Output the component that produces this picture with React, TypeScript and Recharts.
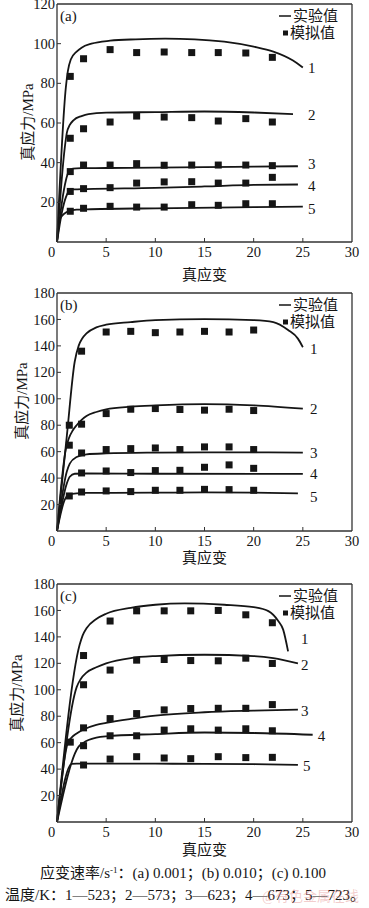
import React from "react";
import {
  ComposedChart,
  Line,
  Scatter,
  XAxis,
  YAxis,
  ReferenceLine,
  ReferenceDot,
} from "recharts";

const FONT = "'Liberation Serif', 'Noto Sans CJK SC', serif";
const INK = "#151515";
const AXIS = "#333";

const STRAIN_TICKS = [0, 5, 10, 15, 20, 25, 30];
const STRESS_TICKS_A = [0, 20, 40, 60, 80, 100, 120];
const STRESS_TICKS_BC = [0, 20, 40, 60, 80, 100, 120, 140, 160, 180];
const CURVE_NAMES = ["1", "2", "3", "4", "5"];

// (a) 0.001 s^-1 — experimental curves
const expStrainA1 = [0, 0.9, 1.1, 1.4, 2, 2.5, 3.5, 5.4, 8, 11, 14, 17, 20, 22, 24, 25];
const expStressA1 = [0, 78, 86, 92, 96, 98, 100, 101.5, 102.2, 102.5, 102.2, 101, 98.5, 96, 91.5, 88];
const expStrainA2 = [0, 0.8, 1, 1.3, 1.7, 2.5, 3.2, 5, 10, 15, 20, 24];
const expStressA2 = [0, 48, 55, 59, 61.5, 63.5, 64.5, 65.2, 65.5, 65.8, 65.3, 64.5];
const expStrainA3 = [0, 0.5, 0.9, 1.2, 1.6, 2.5, 5, 10, 15, 20, 24.5];
const expStressA3 = [0, 20, 31, 35.5, 37, 37.2, 37.3, 37.5, 37.8, 38, 38.2];
const expStrainA4 = [0, 0.5, 0.9, 1.2, 1.7, 3, 10, 15, 20, 24.5];
const expStressA4 = [0, 15, 22.5, 25.5, 26.5, 26.7, 27.3, 28, 28.8, 29];
const expStrainA5 = [0, 0.15, 0.4, 0.8, 1.2, 2, 3, 10, 20, 25];
const expStressA5 = [0, 10, 12.5, 14.5, 15.5, 16.3, 16.5, 17, 17.6, 17.8];

// (a) simulated points
const simStrainA = [1.35, 2.7, 5.4, 8.1, 10.9, 13.7, 16.4, 19.2, 21.9];
const simStressA1 = [83.5, 92.4, 97, 95.5, 95.8, 95.5, 95.5, 95.3, 93.1];
const simStressA2 = [52.3, 57.1, 60.5, 63.5, 63, 62.7, 61, 62.2, 60.5];
const simStressA3 = [35.5, 38.8, 38.8, 39.5, 38.7, 38.8, 38.8, 38.8, 38.5];
const simStressA4 = [25.5, 26.9, 27.4, 29.7, 30.3, 30.4, 29.7, 29.7, 32.6];
const simStressA5 = [15.5, 17, 18, 17.6, 17.6, 18.8, 18.5, 19.3, 19.3];

// (b) 0.010 s^-1 — experimental curves
const expStrainB1 = [0, 1, 1.8, 2.2, 2.6, 3, 4, 5, 7.5, 10, 15, 20, 22, 23.5, 24.5, 25];
const expStressB1 = [0, 72, 128, 140, 146, 149.5, 154, 156, 158, 159.5, 160.3, 159.5, 158, 152, 145.5, 139];
const expStrainB2 = [0, 0.9, 1.2, 1.6, 2, 2.5, 3, 4, 5, 7.5, 10, 15, 20, 25];
const expStressB2 = [0, 62, 70, 76, 80, 84, 87, 90, 92, 94, 95, 96, 95, 92.5];
const expStrainB3 = [0, 1, 1.3, 2, 3, 5, 10, 15, 20, 25];
const expStressB3 = [0, 45, 51, 56, 58, 58.7, 59.3, 59.5, 59.5, 59.3];
const expStrainB4 = [0, 1, 1.3, 1.8, 3, 10, 25];
const expStressB4 = [0, 36, 41, 43.3, 43.5, 43.3, 43.2];
const expStrainB5 = [0, 0.8, 1.2, 2, 3, 10, 15, 20, 24.5];
const expStressB5 = [0, 24, 27.5, 28.5, 28.8, 29, 29.2, 29, 28.5];

// (b) simulated points
const simStrainB = [1.25, 2.5, 5, 7.5, 10, 12.5, 15, 17.5, 20];
const simStrainB1 = [2.5, 5, 7.5, 10, 12.5, 15, 17.5, 20];
const simStressB1 = [136, 150.5, 151, 150, 150.5, 151, 150.5, 152];
const simStressB2 = [80, 80.8, 88.8, 92.1, 92.6, 91.9, 91.4, 92.1, 91.1];
const simStressB3 = [64.9, 59, 61.6, 62.3, 62.8, 61.6, 63.6, 63.6, 61.6];
const simStrainB4 = [2.5, 5, 7.5, 10, 12.5, 15, 17.5, 20];
const simStressB4 = [43.9, 45.4, 44.2, 45.7, 45.9, 48.2, 50, 47.4];
const simStressB5 = [26.5, 29.5, 30.3, 29.8, 30.8, 30.8, 31.5, 31.3, 30.8];

// (c) 0.100 s^-1 — experimental curves
const expStrainC1 = [0, 2.3, 2.6, 3, 4, 5, 7.5, 10, 13, 17, 20, 21.5, 22.5, 23, 23.5];
const expStressC1 = [0, 134, 141, 146.5, 153.5, 157.5, 162, 164.3, 165.3, 164.3, 162.5, 159.5, 152, 145.5, 129];
const expStrainC2 = [0, 2, 2.4, 3, 4, 5, 7.5, 10, 15, 20, 22, 24.5];
const expStressC2 = [0, 102, 108, 113, 117, 120, 124, 125.5, 126.5, 125.5, 124, 120];
const expStrainC3 = [0, 1.1, 1.5, 2, 2.7, 4, 5, 7.5, 10, 15, 20, 24.5];
const expStressC3 = [0, 60, 64, 67, 70, 73.5, 75, 78, 80.5, 83, 84.2, 85];
const expStrainC4 = [0, 2.2, 2.7, 3.2, 4, 5, 10, 15, 20, 26];
const expStressC4 = [0, 57, 60, 62, 63.8, 64.8, 66.5, 67.7, 67.3, 66];
const expStrainC5 = [0, 1.5, 2, 5, 10, 15, 20, 24.5];
const expStressC5 = [0, 44, 44.2, 44.2, 44.1, 44, 43.7, 43.2];

// (c) simulated points
const simStrainC = [2.7, 5.4, 8.1, 10.9, 13.6, 16.4, 19.2, 21.9];
const simStrainC3 = [1.35, 2.7, 5.4, 8.1, 10.9, 13.6, 16.4, 19.2, 21.9];
const simStressC1 = [125.9, 152, 159.7, 159.7, 159.7, 160, 156.7, 150.7];
const simStressC2 = [103.8, 114.9, 122.4, 122.9, 122.1, 121.9, 123.9, 119.9];
const simStressC3 = [60.4, 71.2, 78.2, 82, 84.8, 85.8, 86, 86, 88.8];
const simStressC4 = [57.7, 65.2, 65.2, 69.5, 70.5, 69.5, 70.5, 69];
const simStressC5 = [43.1, 47.6, 49.4, 48.4, 47.9, 49.4, 48.7, 48.9];

const pts = (xs: number[], ys: number[]) =>
  xs.map((x, i) => ({ strain: x, stress: ys[i] }));

// chart geometry
const W = 369;
const MT = 10;
const PH = 238;
const XH = 45;
const YW = 57;
const MR = 17;
const CH = MT + PH + XH;

const XTick = (props: any) => {
  const { x, y, payload } = props;
  const v = payload.value;
  return (
    <g>
      {v > 0 && v < 30 && (
        <line x1={x} y1={y} x2={x} y2={y - 4} stroke={AXIS} strokeWidth={1} />
      )}
      <text
        x={v === 0 ? x - 5.5 : x}
        y={y + 15}
        textAnchor="middle"
        fontSize={14.5}
        fontFamily={FONT}
        fill={INK}
      >
        {v}
      </text>
    </g>
  );
};

const YTick = (props: any) => {
  const { x, y, payload, max } = props;
  const v = payload.value;
  if (v === 0) return <g />;
  return (
    <g>
      {v < max && (
        <line x1={x} y1={y} x2={x + 4} y2={y} stroke={AXIS} strokeWidth={1} />
      )}
      <text
        x={x - 2}
        y={y}
        dy="0.35em"
        textAnchor="end"
        fontSize={14.5}
        fontFamily={FONT}
        fill={INK}
      >
        {v}
      </text>
    </g>
  );
};

const Square = (props: any) => {
  const { cx, cy } = props;
  if (cx == null || cy == null) return <g />;
  return <rect x={cx - 3.5} y={cy - 3.5} width={7} height={7} fill={INK} />;
};

type PanelProps = {
  plotTop: number;
  tag: string;
  yMax: number;
  yTicks: number[];
  curves: { strain: number; stress: number }[][];
  sims: { strain: number; stress: number }[][];
  names: { strain: number; stress: number }[];
  yTitleX: number;
  yTitleDy: number;
  xTitleDy: number;
};

function Panel(p: PanelProps) {
  const plotCx = YW + (W - YW - MR) / 2;
  const plotCy = MT + PH / 2;
  return (
    <div style={{ position: "absolute", left: 0, top: p.plotTop - MT, width: W, height: CH }}>
      <ComposedChart width={W} height={CH} margin={{ top: MT, right: MR, left: 0, bottom: 0 }}>
        <XAxis
          type="number"
          dataKey="strain"
          domain={[0, 30]}
          ticks={STRAIN_TICKS}
          interval={0}
          height={XH}
          tickSize={0}
          tickMargin={0}
          tickLine={false}
          axisLine={{ stroke: AXIS, strokeWidth: 1.3 }}
          tick={<XTick />}
          label={{
            content: () => (
              <text
                x={plotCx}
                y={MT + PH + p.xTitleDy}
                textAnchor="middle"
                dominantBaseline="central"
                fontSize={15}
                fontFamily={FONT}
                fill={INK}
              >
                真应变
              </text>
            ),
          }}
        />
        <YAxis
          type="number"
          dataKey="stress"
          domain={[0, p.yMax]}
          ticks={p.yTicks}
          interval={0}
          width={YW}
          tickSize={0}
          tickMargin={0}
          tickLine={false}
          axisLine={{ stroke: AXIS, strokeWidth: 1.3 }}
          tick={(tp: any) => <YTick {...tp} max={p.yMax} />}
          label={{
            content: () => (
              <text
                x={p.yTitleX}
                y={plotCy + p.yTitleDy}
                transform={`rotate(-90, ${p.yTitleX}, ${plotCy + p.yTitleDy})`}
                textAnchor="middle"
                dominantBaseline="central"
                fontSize={15}
                fontFamily={FONT}
                fill={INK}
              >
                真应力/MPa
              </text>
            ),
          }}
        />
        <ReferenceLine x={30} stroke={AXIS} strokeWidth={1.3} />
        <ReferenceLine y={p.yMax} stroke={AXIS} strokeWidth={1.3} />
        {p.curves.map((c, i) => (
          <Line
            key={"c" + i}
            data={c}
            dataKey="stress"
            type="monotone"
            dot={false}
            stroke={INK}
            strokeWidth={1.8}
            isAnimationActive={false}
          />
        ))}
        {p.sims.map((s, i) => (
          <Scatter
            key={"s" + i}
            data={s}
            dataKey="stress"
            shape={<Square />}
            isAnimationActive={false}
          />
        ))}
        {p.names.map((n, i) => (
          <ReferenceDot
            key={"n" + i}
            x={n.strain}
            y={n.stress}
            r={0}
            fill="none"
            stroke="none"
            label={{
              value: CURVE_NAMES[i],
              position: "center",
              fontSize: 15,
              fontFamily: FONT,
              fill: INK,
            }}
          />
        ))}
      </ComposedChart>
      <svg
        width={W}
        height={CH}
        style={{ position: "absolute", left: 0, top: 0, pointerEvents: "none" }}
      >
        <text x={60} y={MT + 12} dominantBaseline="central" fontSize={15} fontFamily={FONT} fill={INK}>
          {p.tag}
        </text>
        <line x1={279} x2={291} y1={MT + 12} y2={MT + 12} stroke={INK} strokeWidth={1.5} />
        <text x={293} y={MT + 12} dominantBaseline="central" fontSize={15} fontFamily={FONT} fill={INK}>
          实验值
        </text>
        <rect x={283} y={MT + 26.5} width={5} height={5} fill={INK} />
        <text x={290} y={MT + 29} dominantBaseline="central" fontSize={15} fontFamily={FONT} fill={INK}>
          模拟值
        </text>
      </svg>
    </div>
  );
}

const curvesA = [
  pts(expStrainA1, expStressA1),
  pts(expStrainA2, expStressA2),
  pts(expStrainA3, expStressA3),
  pts(expStrainA4, expStressA4),
  pts(expStrainA5, expStressA5),
];
const simsA = [
  pts(simStrainA, simStressA1),
  pts(simStrainA, simStressA2),
  pts(simStrainA, simStressA3),
  pts(simStrainA, simStressA4),
  pts(simStrainA, simStressA5),
];
const curvesB = [
  pts(expStrainB1, expStressB1),
  pts(expStrainB2, expStressB2),
  pts(expStrainB3, expStressB3),
  pts(expStrainB4, expStressB4),
  pts(expStrainB5, expStressB5),
];
const simsB = [
  pts(simStrainB1, simStressB1),
  pts(simStrainB, simStressB2),
  pts(simStrainB, simStressB3),
  pts(simStrainB4, simStressB4),
  pts(simStrainB, simStressB5),
];
const curvesC = [
  pts(expStrainC1, expStressC1),
  pts(expStrainC2, expStressC2),
  pts(expStrainC3, expStressC3),
  pts(expStrainC4, expStressC4),
  pts(expStrainC5, expStressC5),
];
const simsC = [
  pts(simStrainC, simStressC1),
  pts(simStrainC, simStressC2),
  pts(simStrainC3, simStressC3),
  pts(simStrainC, simStressC4),
  pts(simStrainC, simStressC5),
];

// where the curve numbers sit, in data units
const namesA = pts([25.9, 25.9, 25.9, 25.9, 25.9], [88, 64, 39.3, 28.4, 17]);
const namesB = pts([26.1, 26.1, 26.1, 26.1, 26.1], [138, 92.8, 59.2, 43.1, 26]);
const namesC = pts([25.2, 25.2, 25.2, 26.9, 25.4], [139, 118.8, 84.2, 65.3, 42.4]);

export default function App() {
  return (
    <div
      style={{
        position: "absolute",
        left: 0,
        top: 0,
        width: W,
        height: 908,
        background: "#fff",
        fontFamily: FONT,
        color: INK,
        overflow: "hidden",
      }}
    >
      <Panel
        plotTop={4}
        tag="(a)"
        yMax={120}
        yTicks={STRESS_TICKS_A}
        curves={curvesA}
        sims={simsA}
        names={namesA}
        yTitleX={28}
        yTitleDy={-1}
        xTitleDy={33}
      />
      <Panel
        plotTop={293}
        tag="(b)"
        yMax={180}
        yTicks={STRESS_TICKS_BC}
        curves={curvesB}
        sims={simsB}
        names={namesB}
        yTitleX={22}
        yTitleDy={-11}
        xTitleDy={27}
      />
      <Panel
        plotTop={584}
        tag="(c)"
        yMax={180}
        yTicks={STRESS_TICKS_BC}
        curves={curvesC}
        sims={simsC}
        names={namesC}
        yTitleX={17}
        yTitleDy={-10}
        xTitleDy={28}
      />
      <div
        style={{
          position: "absolute",
          left: 0,
          width: 366,
          top: 860,
          textAlign: "center",
          fontSize: 15,
          lineHeight: "20px",
          whiteSpace: "nowrap",
        }}
      >
        应变速率/s<span style={{ fontSize: 9, verticalAlign: "5px" }}>-1</span>：(a) 0.001；(b) 0.010；(c) 0.100
      </div>
      <div
        style={{
          position: "absolute",
          left: 5,
          top: 885,
          fontSize: 15,
          lineHeight: "20px",
          whiteSpace: "nowrap",
        }}
      >
        温度/K：1—523；2—573；3—623；4—673；5—723。
      </div>
      <div
        style={{
          position: "absolute",
          left: 262,
          top: 887,
          fontSize: 14,
          lineHeight: "20px",
          color: "rgba(220, 110, 110, 0.35)",
          whiteSpace: "nowrap",
        }}
      >
        @有色金属在线
      </div>
    </div>
  );
}
